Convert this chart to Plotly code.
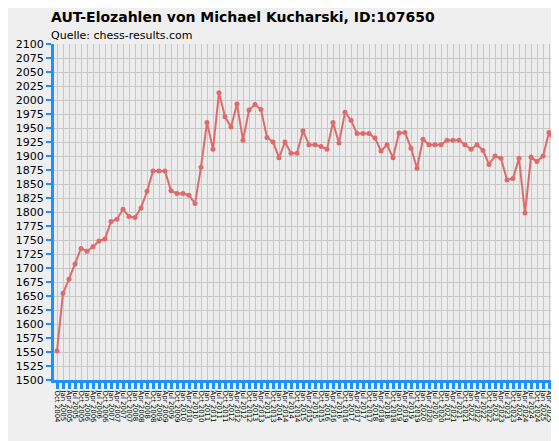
import plotly.graph_objects as go

values = [1552,1655,1680,1707,1735,1730,1738,1748,1752,1783,1787,1805,1792,1790,1807,1837,
          1873,1873,1873,1838,1833,1833,1830,1815,1880,1960,1912,2013,1970,1952,1993,1928,
          1982,1992,1983,1933,1925,1897,1925,1905,1905,1945,1920,1920,1917,1912,1960,1923,
          1978,1964,1940,1940,1940,1932,1909,1920,1897,1941,1942,1914,1878,1930,1920,1920,
          1920,1928,1928,1928,1920,1912,1920,1910,1885,1900,1896,1857,1860,1896,1798,1898,
          1890,1900,1942,1920]
months = ["Jan", "Apr", "Jul", "Oct"]
labels = [f"{months[(i + 3) % 4]} {2004 + (i + 3) // 4}" for i in range(len(values))]

fig = go.Figure(go.Scatter(
    x=labels, y=values, mode="lines+markers", cliponaxis=False,
    line=dict(color="#e06a6a", width=2), marker=dict(color="#e06a6a", size=5),
))
fig.update_layout(
    width=559, height=441, margin=dict(l=40, r=8, t=36, b=69),
    paper_bgcolor="#efefef", plot_bgcolor="#ececec", showlegend=False,
    font=dict(family="DejaVu Sans", color="#000"),
)
fig.add_annotation(text="<b>AUT-Elozahlen von Michael Kucharski, ID:107650</b>", x=-0.01,
                   y=1.052, xref="paper", yref="paper", showarrow=False, font=dict(size=14),
                   xanchor="left", yanchor="bottom")
fig.add_annotation(text="Quelle: chess-results.com", x=-0.01, y=1.0, xref="paper", yref="paper",
                   showarrow=False, font=dict(size=11), xanchor="left", yanchor="bottom")
fig.update_xaxes(type="category", tickangle=90, tickfont=dict(size=7), showgrid=True,
                 dtick=1, tickmode="linear",
                 gridcolor="#c8c8c8", showline=True, linecolor="#1e90ff", linewidth=3,
                 ticks="outside", tickcolor="#1e90ff", ticklen=6, tickwidth=3, range=[-0.5, len(values)-0.5])
fig.update_yaxes(range=[1500, 2100], dtick=25, tickfont=dict(size=11), showgrid=True,
                 gridcolor="#c8c8c8", showline=True, linecolor="#1e90ff", linewidth=3,
                 ticks="outside", tickcolor="#1e90ff", ticklen=5, tickwidth=2, zeroline=False)
fig.write_html("out.html")
